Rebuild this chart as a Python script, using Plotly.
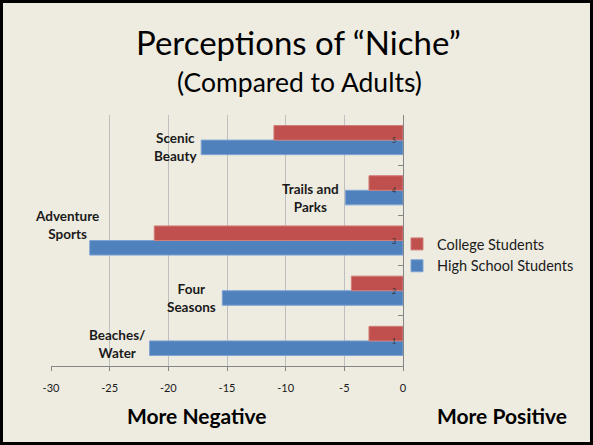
import plotly.graph_objects as go

# category positions (Excel used 1..5 as axis labels)
categories = ["1", "2", "3", "4", "5"]
category_names = ["Beaches/<br>Water", "Four<br>Seasons", "Adventure<br>Sports", "Trails and<br>Parks", "Scenic<br>Beauty"]

college_students = [-2.9, -4.4, -21.2, -2.9, -11.0]
high_school_students = [-21.6, -15.4, -26.7, -4.9, -17.2]

x_ticks = [-30, -25, -20, -15, -10, -5, 0]
x_tick_labels = ["-30", "-25", "-20", "-15", "-10", "-5", "0"]

W, H = 593, 445
L, R, T, B = 51, 190, 115, 79
BG = "#EEECE1"
FONT = "Lato"


def px_x(xp):
	return (xp - L) / (W - L - R)


def px_y(yp):
	return (H - B - yp) / (H - T - B)


fig = go.Figure()

fig.add_trace(go.Bar(
	y=categories, x=high_school_students, orientation="h",
	name="High School Students",
	marker=dict(color="#4F81BD", line=dict(color="#7FA3D3", width=1))
))
fig.add_trace(go.Bar(
	y=categories, x=college_students, orientation="h",
	name="College Students",
	marker=dict(color="#C0504D", line=dict(color="#D27D7A", width=1))
))

# hand placed category labels (x centre, y shift in px)
label_pos = [(-24.4, -3), (-18.0, -7), (-28.6, 16), (-7.9, -8), (-19.4, -7)]
for i, (name, (lx, ys)) in enumerate(zip(category_names, label_pos)):
	fig.add_annotation(
		x=lx, y=i, xref="x", yref="y", yshift=ys,
		xanchor="center", yanchor="middle",
		text="<b>" + name + "</b>", showarrow=False,
		font=dict(family=FONT, size=13.5, color="#1a1a1a"),
		align="center"
	)

# tiny 1..5 labels sitting just left of the y axis line (x = 0)
for i, cat in enumerate(categories):
	fig.add_annotation(
		x=0, y=i, xref="x", yref="y", xshift=-5,
		xanchor="right", yanchor="middle",
		text=cat, showarrow=False,
		font=dict(family=FONT, size=7, color="#333333")
	)


def text_at(txt, xp, yp, size):
	fig.add_annotation(
		x=px_x(xp), y=px_y(yp), xref="paper", yref="paper",
		xanchor="center", yanchor="middle",
		text=txt, showarrow=False,
		font=dict(family=FONT, size=size, color="black")
	)


text_at("Perceptions of \u201cNiche\u201d", 298, 42, 33)
text_at("(Compared to Adults)", 299, 82, 26.5)
text_at("<b>More Negative</b>", 197, 415, 21)
text_at("<b>More Positive</b>", 502, 415, 21)

# slide frame
fig.add_shape(
	type="rect", xref="paper", yref="paper",
	x0=px_x(1.5), x1=px_x(W - 1.5), y0=px_y(H - 1.5), y1=px_y(1.5),
	line=dict(color="black", width=3)
)

fig.update_layout(
	width=W, height=H,
	margin=dict(l=L, r=R, t=T, b=B),
	paper_bgcolor=BG, plot_bgcolor=BG,
	barmode="group", bargap=0.42, bargroupgap=0,
	showlegend=True,
	legend=dict(
		x=px_x(397), y=px_y(228), xanchor="left", yanchor="top",
		traceorder="reversed", bgcolor="rgba(0,0,0,0)",
		font=dict(family=FONT, size=14.5, color="#1a1a1a"),
		itemwidth=30, tracegroupgap=4
	),
	font=dict(family=FONT)
)

fig.update_xaxes(
	range=[-30, 0], tickvals=x_ticks, ticktext=x_tick_labels,
	showgrid=True, gridcolor="#BFBFBF", gridwidth=1,
	showline=True, linecolor="#868686", linewidth=1,
	ticks="outside", ticklen=4, tickcolor="#868686",
	ticklabelstandoff=8,
	zeroline=False,
	tickfont=dict(family=FONT, size=11, color="#1a1a1a")
)

fig.update_yaxes(
	type="category", categoryorder="array", categoryarray=categories,
	range=[-0.5, 4.5],
	side="right", showticklabels=False,
	ticks="inside", tickson="boundaries", ticklen=5, tickcolor="#868686",
	showline=True, linecolor="#868686", linewidth=1,
	showgrid=False, zeroline=False
)

fig.write_html(
	"out.html",
	config={"displayModeBar": False},
	post_script="document.body.style.margin='0';document.body.style.overflow='hidden';"
)
